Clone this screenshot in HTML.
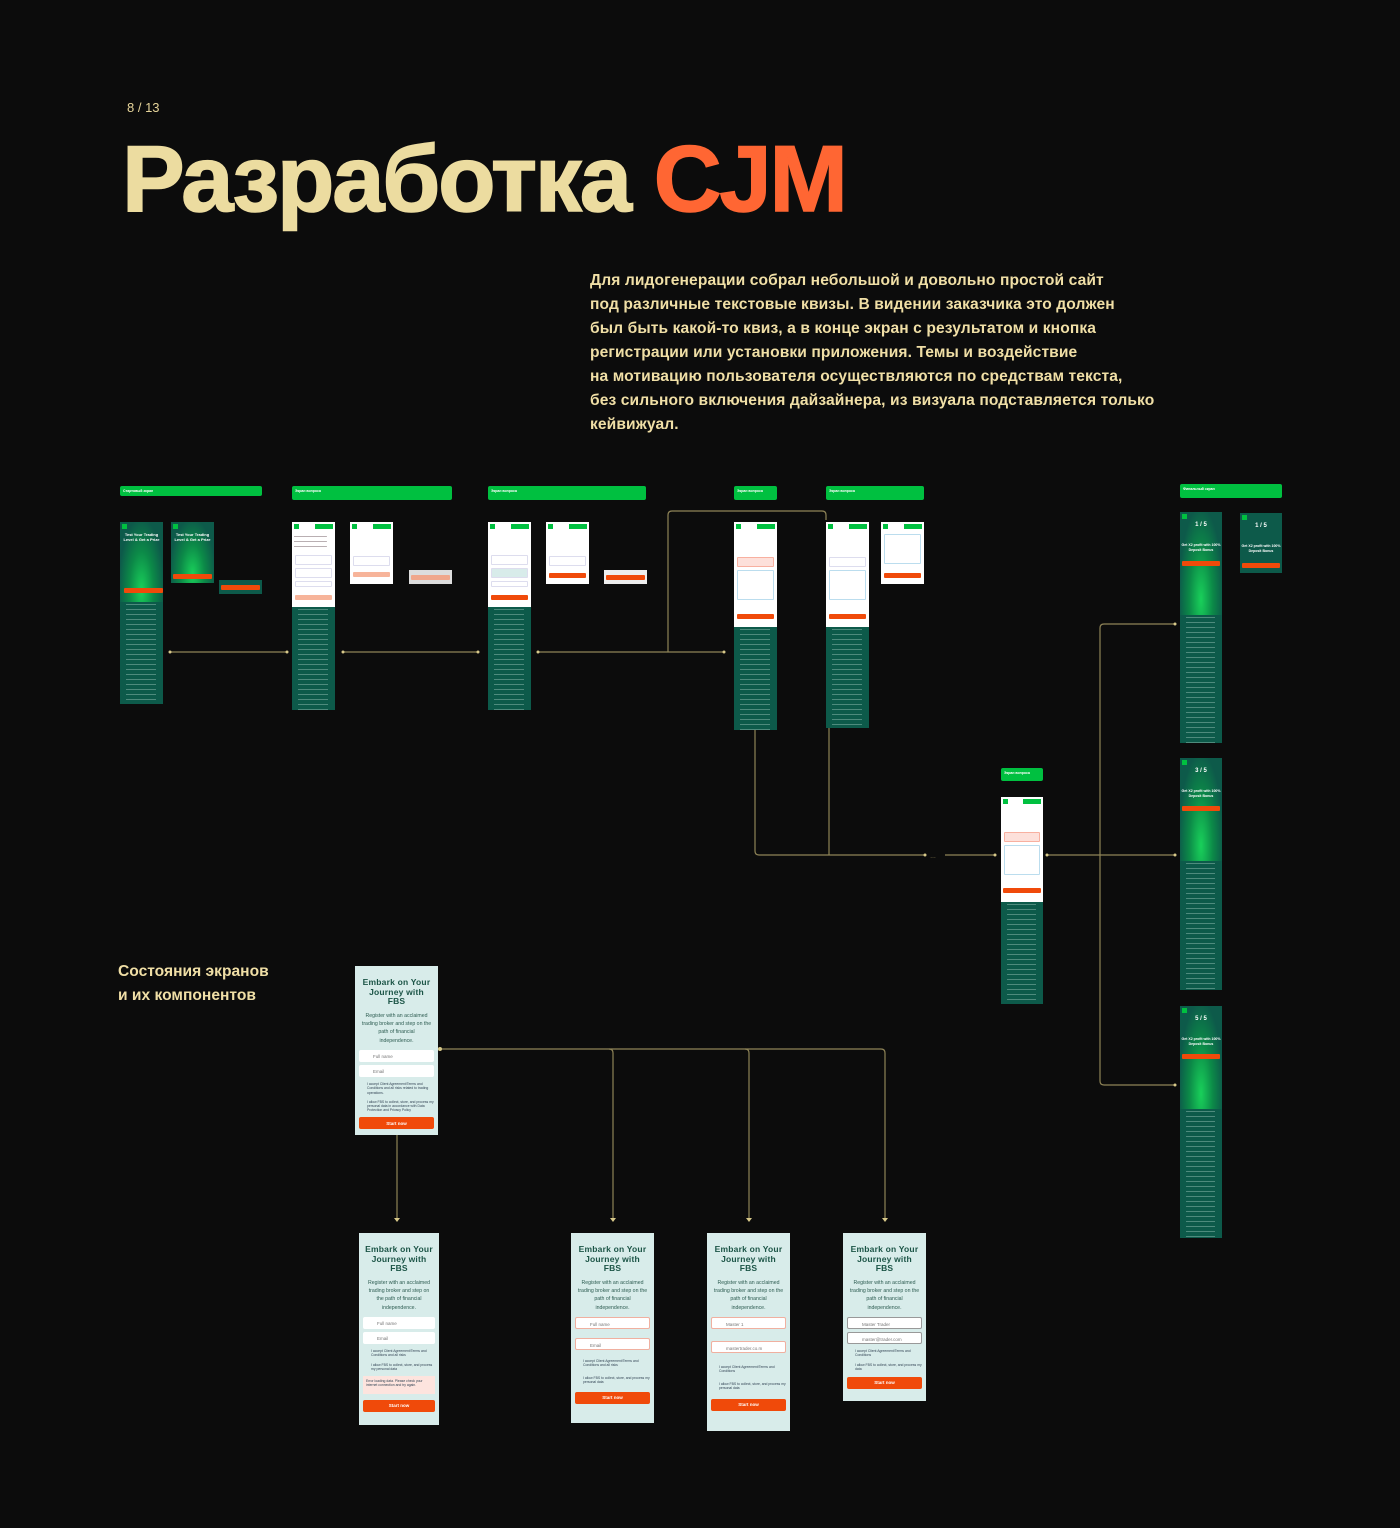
<!DOCTYPE html>
<html><head><meta charset="utf-8">
<style>
*{margin:0;padding:0;box-sizing:border-box}
body{width:1400px;height:1528px;background:#0c0c0c;position:relative;overflow:hidden;font-family:"Liberation Sans","Noto Sans CJK SC",sans-serif}
.a{position:absolute}
.tag{position:absolute;background:#00c040;border-radius:2px;height:13px;color:#fff;font-size:3.5px;font-weight:bold;padding:3px 3px}
.dark{background:#0d5a4a}
.txt{background-image:repeating-linear-gradient(to bottom,transparent 0 2px,rgba(200,230,220,.35) 2px 3px,transparent 3px 5px);background-size:70% 100%;background-repeat:no-repeat;background-position:6px 0}
.white{background:#fff}
.green{background:radial-gradient(ellipse at 50% 85%,#19d05a 0%,#0c8a48 40%,#0d5a4a 75%)}
.ob{position:absolute;background:#f04a0a;height:5px;border-radius:1px}
.hd{position:absolute;left:2px;top:2px;width:5px;height:5px;background:#00c040}
.hb{position:absolute;right:2px;top:2px;width:18px;height:5px;background:#00c040}
.q{position:absolute;left:3px;right:3px;border:1px solid #dde;height:10px;border-radius:1px}
.form{position:absolute;background:#d8ecea;text-align:center;color:#1b5446}
.form h3{font-size:8.5px;line-height:9.5px;font-weight:900;margin-top:12px;letter-spacing:.2px}
.form p{font-size:5.2px;line-height:8.4px;margin:5px 6px 0;color:#2e5d52}
.inp{background:#fff;height:12px;margin:5px 4px 0;border-radius:2px;font-size:4.5px;text-align:left;padding:3.5px 0 0 14px;color:#777}
.chk{font-size:3.4px;text-align:left;margin:5px 4px 0 12px;color:#345;line-height:4.2px}
.btn{background:#f04a0a;height:12px;margin:6px 4px 0;border-radius:2px;color:#fff;font-size:4.5px;font-weight:bold;padding-top:3.5px}
</style></head><body>

<div class="a" style="left:127px;top:100px;color:#e6d49a;font-size:13px">8 / 13</div>
<div class="a" style="left:122px;top:124px;font-size:94px;font-weight:bold;letter-spacing:-2.2px;color:#ecdca0;white-space:nowrap;line-height:110px;-webkit-text-stroke:1.5px currentColor">Разработка <span style="color:#ff6633">CJM</span></div>

<div class="a" style="left:590px;top:269px;width:600px;color:#f0dfa6;font-size:15.6px;font-weight:bold;line-height:24px;letter-spacing:.1px">Для лидогенерации собрал небольшой и довольно простой сайт<br>под различные текстовые квизы. В видении заказчика это должен<br>был быть какой-то квиз, а в конце экран с результатом и кнопка<br>регистрации или установки приложения. Темы и воздействие<br>на мотивацию пользователя осуществляются по средствам текста,<br>без сильного включения дайзайнера, из визуала подставляется только<br>кейвижуал.</div>

<div class="a" style="left:118px;top:960px;color:#f0dfa6;font-size:15.6px;font-weight:bold;line-height:24px">Состояния экранов<br>и их компонентов</div>

<svg class="a" style="left:0;top:0" width="1400" height="1528">
<g stroke="#8f8457" stroke-width="1.2" fill="none">
<line x1="170" y1="652" x2="287" y2="652"/>
<line x1="343" y1="652" x2="478" y2="652"/>
<line x1="538" y1="652" x2="724" y2="652"/>
<path d="M668 652 V515 Q668 511 672 511 H822 Q826 511 826 515 V520"/>
<path d="M755 730 V851 Q755 855 759 855 H925"/>
<line x1="829" y1="728" x2="829" y2="855"/>
<line x1="945" y1="855" x2="995" y2="855"/>
<line x1="1047" y1="855" x2="1175" y2="855"/>
<path d="M1100 855 V628 Q1100 624 1104 624 H1175"/>
<path d="M1100 855 V1081 Q1100 1085 1104 1085 H1175"/>
<path d="M440 1049 H881 Q885 1049 885 1053 V1220"/>
<line x1="397" y1="1135" x2="397" y2="1220"/>
<path d="M609 1049 Q613 1049 613 1053 V1220"/>
<path d="M745 1049 Q749 1049 749 1053 V1220"/>
</g>
<g fill="#d8c98a">
<circle cx="170" cy="652" r="1.5"/><circle cx="287" cy="652" r="1.5"/><circle cx="343" cy="652" r="1.5"/><circle cx="478" cy="652" r="1.5"/><circle cx="538" cy="652" r="1.5"/><circle cx="724" cy="652" r="1.5"/>
<circle cx="925" cy="855" r="1.5"/><circle cx="995" cy="855" r="1.5"/><circle cx="1047" cy="855" r="1.5"/><circle cx="1175" cy="855" r="1.5"/><circle cx="1175" cy="624" r="1.5"/><circle cx="1175" cy="1085" r="1.5"/><circle cx="440" cy="1049" r="2"/>
<path d="M394 1218 h6 l-3 4z M610 1218 h6 l-3 4z M746 1218 h6 l-3 4z M882 1218 h6 l-3 4z"/>
</g>
<text x="930" y="858" fill="#8f8457" font-size="6">…</text>
</svg>

<div class="tag" style="left:120px;top:486px;width:142px;height:10px">Стартовый экран</div>
<div class="tag" style="left:292px;top:486px;width:160px;height:14px">Экран вопроса</div>
<div class="tag" style="left:488px;top:486px;width:158px;height:14px">Экран вопроса</div>
<div class="tag" style="left:734px;top:486px;width:43px;height:14px">Экран вопроса</div>
<div class="tag" style="left:826px;top:486px;width:98px;height:14px">Экран вопроса</div>
<div class="tag" style="left:1180px;top:484px;width:102px;height:14px">Финальный экран</div>
<div class="tag" style="left:1001px;top:768px;width:42px;height:13px">Экран вопроса</div>

<div class="a green" style="left:120px;top:522px;width:43px;height:80px"><div class="hd"></div><div class="a" style="left:2px;right:2px;top:10px;color:#fff;font-size:4px;font-weight:bold;text-align:center;line-height:5px">Test Your Trading Level &amp; Get a Prize</div><div class="ob" style="left:4px;right:0;top:66px"></div></div>
<div class="a dark txt" style="left:120px;top:602px;width:43px;height:102px"></div>
<div class="a green" style="left:171px;top:522px;width:43px;height:61px"><div class="hd"></div><div class="a" style="left:2px;right:2px;top:10px;color:#fff;font-size:4px;font-weight:bold;text-align:center;line-height:5px">Test Your Trading Level &amp; Get a Prize</div><div class="ob" style="left:2px;right:2px;top:52px"></div></div>
<div class="a dark" style="left:219px;top:580px;width:43px;height:14px"><div class="ob" style="left:2px;right:2px;top:5px"></div></div>

<div class="a white" style="left:292px;top:522px;width:43px;height:85px"><div class="hd"></div><div class="hb"></div><div class="a txt" style="left:-4px;right:0;top:12px;height:14px;filter:invert(1)"></div><div class="q" style="top:33px"></div><div class="q" style="top:46px"></div><div class="q" style="top:59px;height:6px"></div><div class="ob" style="left:3px;right:3px;top:73px;background:#f7b49a"></div></div>
<div class="a dark txt" style="left:292px;top:607px;width:43px;height:103px"></div>
<div class="a white" style="left:350px;top:522px;width:43px;height:62px"><div class="hd"></div><div class="hb"></div><div class="q" style="top:34px"></div><div class="ob" style="left:3px;right:3px;top:50px;background:#f7b49a"></div></div>
<div class="a" style="left:409px;top:570px;width:43px;height:14px;background:#ddd"><div class="ob" style="left:2px;right:2px;top:5px;background:#f0a78c"></div></div>

<div class="a white" style="left:488px;top:522px;width:43px;height:85px"><div class="hd"></div><div class="hb"></div><div class="q" style="top:33px"></div><div class="q" style="top:46px;background:#d8ecea"></div><div class="q" style="top:59px;height:6px"></div><div class="ob" style="left:3px;right:3px;top:73px"></div></div>
<div class="a dark txt" style="left:488px;top:607px;width:43px;height:103px"></div>
<div class="a white" style="left:546px;top:522px;width:43px;height:62px"><div class="hd"></div><div class="hb"></div><div class="q" style="top:34px"></div><div class="ob" style="left:3px;right:3px;top:51px"></div></div>
<div class="a" style="left:604px;top:570px;width:43px;height:14px;background:#eee"><div class="ob" style="left:2px;right:2px;top:5px"></div></div>

<div class="a white" style="left:734px;top:522px;width:43px;height:105px"><div class="hd"></div><div class="hb"></div><div class="q" style="top:35px;background:#fde0da;border-color:#f8b0a0"></div><div class="q" style="top:48px;height:30px;border-color:#bde"></div><div class="ob" style="left:3px;right:3px;top:92px"></div></div>
<div class="a dark txt" style="left:734px;top:627px;width:43px;height:103px"></div>
<div class="a white" style="left:826px;top:522px;width:43px;height:105px"><div class="hd"></div><div class="hb"></div><div class="q" style="top:35px"></div><div class="q" style="top:48px;height:30px;border-color:#bde"></div><div class="ob" style="left:3px;right:3px;top:92px"></div></div>
<div class="a dark txt" style="left:826px;top:627px;width:43px;height:101px"></div>
<div class="a white" style="left:881px;top:522px;width:43px;height:62px"><div class="hd"></div><div class="hb"></div><div class="q" style="top:12px;height:30px;border-color:#bde"></div><div class="ob" style="left:3px;right:3px;top:51px"></div></div>

<div class="a white" style="left:1001px;top:797px;width:42px;height:105px"><div class="hd"></div><div class="hb"></div><div class="q" style="top:35px;background:#fde0da;border-color:#f8b0a0"></div><div class="q" style="top:48px;height:30px;border-color:#bde"></div><div class="ob" style="left:2px;right:2px;top:91px"></div></div>
<div class="a dark txt" style="left:1001px;top:902px;width:42px;height:102px"></div>

<div class="a green" style="left:1180px;top:512px;width:42px;height:103px"><div class="hd"></div><div class="a" style="left:0;right:0;top:10px;color:#fff;font-size:6px;font-weight:bold;text-align:center">1 / 5</div><div class="a" style="left:1px;right:1px;top:31px;color:#fff;font-size:3.5px;font-weight:bold;text-align:center;line-height:4.5px">Get X2 profit with 100% Deposit Bonus</div><div class="ob" style="left:2px;right:2px;top:49px"></div></div>
<div class="a dark txt" style="left:1180px;top:615px;width:42px;height:128px"></div>
<div class="a dark" style="left:1240px;top:513px;width:42px;height:60px"><div class="hd"></div><div class="a" style="left:0;right:0;top:10px;color:#fff;font-size:6px;font-weight:bold;text-align:center">1 / 5</div><div class="a" style="left:1px;right:1px;top:31px;color:#fff;font-size:3.5px;font-weight:bold;text-align:center;line-height:4.5px">Get X2 profit with 100% Deposit Bonus</div><div class="ob" style="left:2px;right:2px;top:50px"></div></div>

<div class="a green" style="left:1180px;top:758px;width:42px;height:103px"><div class="hd"></div><div class="a" style="left:0;right:0;top:10px;color:#fff;font-size:6px;font-weight:bold;text-align:center">3 / 5</div><div class="a" style="left:1px;right:1px;top:31px;color:#fff;font-size:3.5px;font-weight:bold;text-align:center;line-height:4.5px">Get X2 profit with 100% Deposit Bonus</div><div class="ob" style="left:2px;right:2px;top:48px"></div></div>
<div class="a dark txt" style="left:1180px;top:861px;width:42px;height:129px"></div>

<div class="a green" style="left:1180px;top:1006px;width:42px;height:103px"><div class="hd"></div><div class="a" style="left:0;right:0;top:10px;color:#fff;font-size:6px;font-weight:bold;text-align:center">5 / 5</div><div class="a" style="left:1px;right:1px;top:31px;color:#fff;font-size:3.5px;font-weight:bold;text-align:center;line-height:4.5px">Get X2 profit with 100% Deposit Bonus</div><div class="ob" style="left:2px;right:2px;top:48px"></div></div>
<div class="a dark txt" style="left:1180px;top:1109px;width:42px;height:129px"></div>

<div class="form" style="left:355px;top:966px;width:83px;height:169px"><h3>Embark on Your<br>Journey with<br>FBS</h3><p>Register with an acclaimed trading broker and step on the path of financial independence.</p><div class="inp">Full name</div><div class="inp" style="margin-top:3px">Email</div><div class="chk">I accept Client Agreement/Terms and Conditions and all risks related to trading operations.</div><div class="chk">I allow FBS to collect, store, and process my personal data in accordance with Data Protection and Privacy Policy</div><div class="btn" style="margin-top:5px">Start now</div></div>

<div class="form" style="left:359px;top:1233px;width:80px;height:192px"><h3>Embark on Your<br>Journey with<br>FBS</h3><p>Register with an acclaimed trading broker and step on the path of financial independence.</p><div class="inp">Full name</div><div class="inp" style="margin-top:3px">Email</div><div class="chk">I accept Client Agreement/Terms and Conditions and all risks</div><div class="chk">I allow FBS to collect, store, and process my personal data</div><div class="chk" style="background:#fde4de;margin-left:4px;padding:3px;height:18px">Error loading data. Please check your internet connection and try again.</div><div class="btn">Start now</div></div>

<div class="form" style="left:571px;top:1233px;width:83px;height:190px"><h3>Embark on Your<br>Journey with<br>FBS</h3><p>Register with an acclaimed trading broker and step on the path of financial independence.</p><div class="inp" style="border:1px solid #f0b0a0">Full name</div><div class="inp" style="border:1px solid #f0b0a0;margin-top:9px">Email</div><div class="chk" style="margin-top:9px">I accept Client Agreement/Terms and Conditions and all risks</div><div class="chk" style="margin-top:8px">I allow FBS to collect, store, and process my personal data</div><div class="btn" style="margin-top:8px">Start now</div></div>

<div class="form" style="left:707px;top:1233px;width:83px;height:198px"><h3>Embark on Your<br>Journey with<br>FBS</h3><p>Register with an acclaimed trading broker and step on the path of financial independence.</p><div class="inp" style="border:1px solid #f0b0a0">Master 1</div><div class="inp" style="border:1px solid #f0b0a0;margin-top:12px">mastertrader.co.m</div><div class="chk" style="margin-top:12px">I accept Client Agreement/Terms and Conditions</div><div class="chk" style="margin-top:8px">I allow FBS to collect, store, and process my personal data</div><div class="btn" style="margin-top:9px">Start now</div></div>

<div class="form" style="left:843px;top:1233px;width:83px;height:168px"><h3>Embark on Your<br>Journey with<br>FBS</h3><p>Register with an acclaimed trading broker and step on the path of financial independence.</p><div class="inp" style="border:1px solid #999">Master Trader</div><div class="inp" style="border:1px solid #999;margin-top:3px">master@trader.com</div><div class="chk">I accept Client Agreement/Terms and Conditions</div><div class="chk">I allow FBS to collect, store, and process my data</div><div class="btn">Start now</div></div>

</body></html>
